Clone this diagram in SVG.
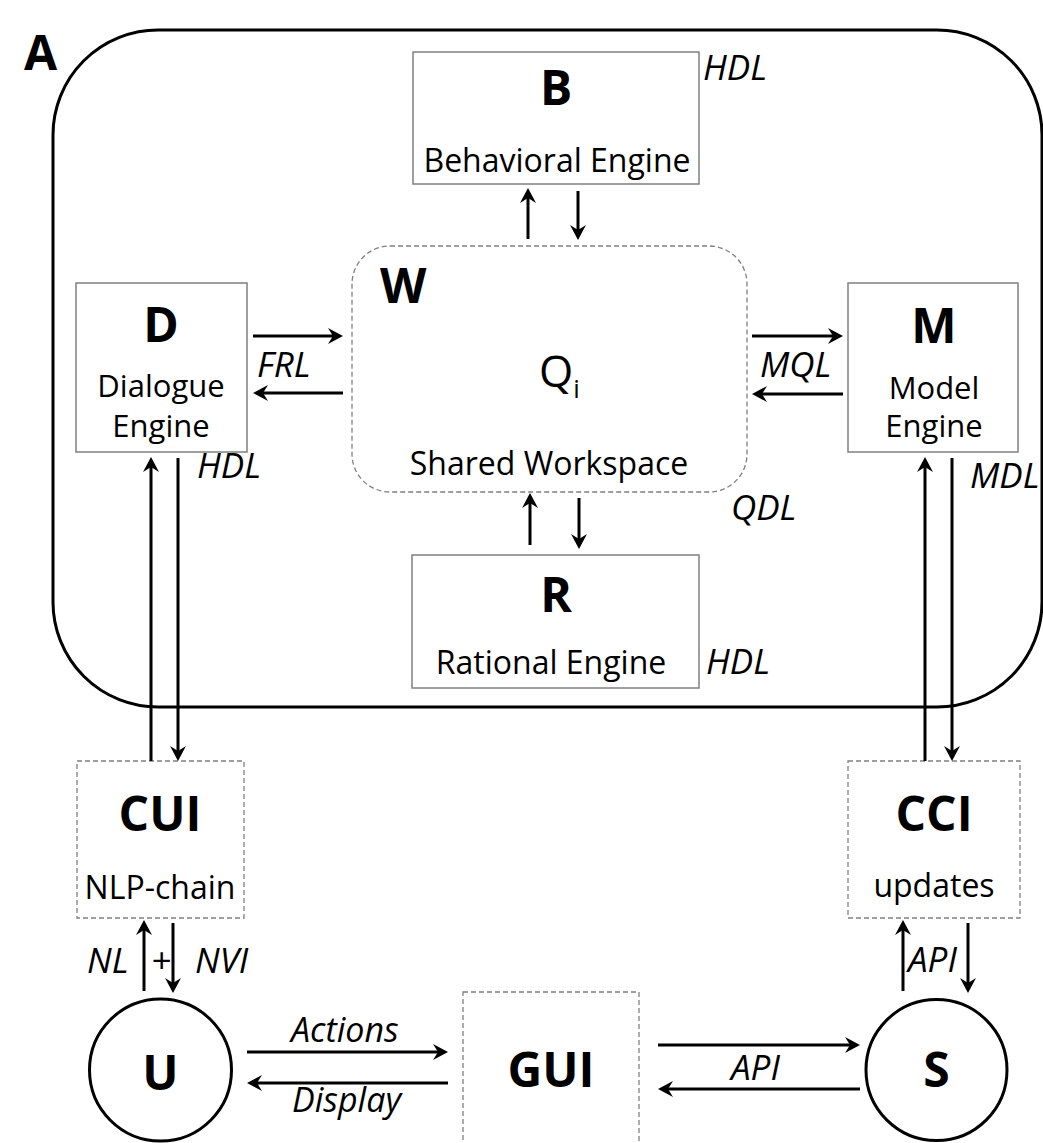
<svg xmlns="http://www.w3.org/2000/svg" width="1043" height="1143" viewBox="0 0 1043 1143">
<style>
  text { font-family: "Open Sans", "Noto Sans", sans-serif; fill: #000; }
  .big { font-size: 48px; font-weight: bold; text-anchor: middle; }
  .lbl { font-size: 32px; text-anchor: middle; }
  .lbl2 { font-size: 31px; text-anchor: middle; }
  .it { font-size: 35px; font-style: italic; }
  .it2 { font-size: 34px; font-style: italic; }
  .box { fill: #fff; stroke: #808080; stroke-width: 1.5; }
  .dbox { fill: #fff; stroke: #808080; stroke-width: 1.3; stroke-dasharray: 5 3; }
  .circ { fill: #fff; stroke: #000; stroke-width: 3; }
  .arr { fill: none; stroke: #000; stroke-width: 3; marker-end: url(#ah); }
</style>
<defs>
  <marker id="ah" markerUnits="userSpaceOnUse" viewBox="-16 -9 18 18" refX="-6" refY="0" markerWidth="18" markerHeight="18" orient="auto">
    <path d="M0,0 L-15,-8 L-10,0 L-15,8 Z" fill="#000"/>
  </marker>
</defs>
<rect width="1043" height="1143" fill="#fff"/>

<g id="frame">
  <rect x="53" y="30" width="989" height="677" rx="105" ry="105" fill="none" stroke="#000" stroke-width="3"/>
  <text x="24" y="70" style="font-size:48px;font-weight:bold">A</text>
</g>

<g id="node-B">
  <rect class="box" x="413" y="52" width="286" height="132"/>
  <text class="big" x="556" y="105">B</text>
  <text class="lbl" x="557" y="172">Behavioral Engine</text>
  <text class="it" x="703" y="80">HDL</text>
</g>

<g id="node-W">
  <rect class="dbox" x="352" y="246" width="395" height="246" rx="38" ry="38"/>
  <text x="380" y="303" style="font-size:48px;font-weight:bold">W</text>
  <text x="539" y="387" style="font-size:44px">Q<tspan dy="11" style="font-size:26px">i</tspan></text>
  <text class="lbl" x="549" y="475">Shared Workspace</text>
</g>

<g id="node-D">
  <rect class="box" x="76" y="283" width="171" height="169"/>
  <text class="big" x="161" y="342">D</text>
  <text class="lbl2" x="161" y="397">Dialogue</text>
  <text class="lbl2" x="161" y="437">Engine</text>
</g>

<g id="node-M">
  <rect class="box" x="848" y="283" width="170" height="169"/>
  <text class="big" x="934" y="343">M</text>
  <text class="lbl2" x="934" y="399">Model</text>
  <text class="lbl2" x="934" y="437">Engine</text>
</g>

<g id="node-R">
  <rect class="box" x="412" y="555" width="287" height="133"/>
  <text class="big" x="556" y="612">R</text>
  <text class="lbl" x="551" y="674">Rational Engine</text>
  <text class="it" x="706" y="674">HDL</text>
</g>

<g id="node-CUI">
  <rect class="dbox" x="77" y="761" width="167" height="157"/>
  <text class="big" x="160" y="831">CUI</text>
  <text class="lbl" x="160" y="899">NLP-chain</text>
</g>

<g id="node-CCI">
  <rect class="dbox" x="848" y="761" width="172" height="157"/>
  <text class="big" x="934" y="831">CCI</text>
  <text class="lbl" x="934" y="897">updates</text>
</g>

<g id="node-U">
  <circle class="circ" cx="160.5" cy="1070" r="71"/>
  <text class="big" x="160.5" y="1090">U</text>
</g>

<g id="node-GUI">
  <rect class="dbox" x="463" y="992" width="176" height="170"/>
  <text class="big" x="551" y="1087">GUI</text>
</g>

<g id="node-S">
  <circle class="circ" cx="936.5" cy="1070" r="70.5"/>
  <text class="big" x="936.5" y="1087">S</text>
</g>

<g id="connectors">
  <line class="arr" x1="528" y1="239" x2="528" y2="194"/>
  <line class="arr" x1="578" y1="191" x2="578" y2="234"/>
  <line class="arr" x1="253" y1="336" x2="337" y2="336"/>
  <line class="arr" x1="343" y1="393" x2="259" y2="393"/>
  <line class="arr" x1="752" y1="336" x2="837" y2="336"/>
  <line class="arr" x1="843" y1="394" x2="758" y2="394"/>
  <line class="arr" x1="530" y1="545" x2="530" y2="499"/>
  <line class="arr" x1="579" y1="498" x2="579" y2="543"/>
  <line class="arr" x1="151" y1="761" x2="151" y2="463"/>
  <line class="arr" x1="178" y1="458" x2="178" y2="755"/>
  <line class="arr" x1="925" y1="761" x2="925" y2="463"/>
  <line class="arr" x1="952" y1="458" x2="952" y2="755"/>
  <line class="arr" x1="144" y1="991" x2="144" y2="926"/>
  <line class="arr" x1="173" y1="923" x2="173" y2="987"/>
  <line class="arr" x1="903" y1="991" x2="903" y2="926"/>
  <line class="arr" x1="968" y1="923" x2="968" y2="987"/>
  <line class="arr" x1="247" y1="1052" x2="442" y2="1052"/>
  <line class="arr" x1="448" y1="1083" x2="253" y2="1083"/>
  <line class="arr" x1="658" y1="1045" x2="854" y2="1045"/>
  <line class="arr" x1="860" y1="1089" x2="664" y2="1089"/>
  <text class="it" x="257" y="377">FRL</text>
  <text class="it" x="760" y="377">MQL</text>
  <text class="it" x="197" y="478">HDL</text>
  <text class="it" x="970" y="488">MDL</text>
  <text class="it" x="731" y="520">QDL</text>
  <text class="it" x="87" y="973">NL</text>
  <text class="it" x="151" y="973">+</text>
  <text class="it" x="195" y="973">NVI</text>
  <text class="it" x="908" y="972">API</text>
  <text class="it2" x="291" y="1042">Actions</text>
  <text class="it2" x="292" y="1112">Display</text>
  <text class="it" x="731" y="1080">API</text>
</g>
</svg>
